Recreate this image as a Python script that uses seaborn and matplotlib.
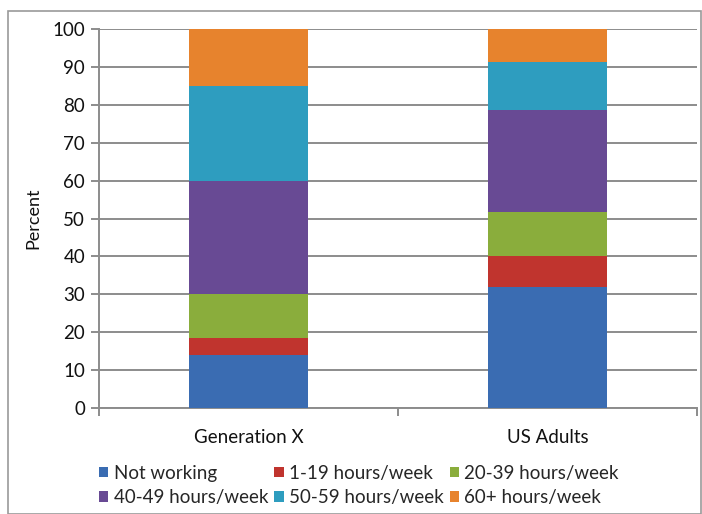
import matplotlib
matplotlib.use("Agg")
import matplotlib.pyplot as plt
import seaborn as sns
import pandas as pd
import numpy as np
from matplotlib.patches import Rectangle, Patch

groups = ["Generation X", "US Adults"]
series = ["Not working", "1-19 hours/week", "20-39 hours/week",
          "40-49 hours/week", "50-59 hours/week", "60+ hours/week"]
genx = [14, 4.5, 11.5, 30, 25, 15]
us_adults = [32, 8, 11.7, 26.8, 12.8, 8.7]
colors = ["#3a6cb2", "#c0342e", "#8aad3c", "#684a94", "#2e9dbf", "#e7832d"]
yticks = [0, 10, 20, 30, 40, 50, 60, 70, 80, 90, 100]

sns.set_theme(style="white")
plt.rcParams['font.family'] = ['Lato', 'DejaVu Sans']

fig = plt.figure(figsize=(7.02, 5.14), dpi=100)
ax = fig.add_axes([99/702, 1-408/514, (697-99)/702, (408-29)/514])

df = pd.DataFrame({"group": np.repeat(groups, len(series)),
                   "series": series * len(groups),
                   "value": genx + us_adults})
bottom = np.zeros(len(groups))
for s, c in zip(series, colors):
    sub = df[df["series"] == s].set_index("group").loc[groups]
    sns.barplot(x=groups, y=sub["value"].values, color=c, width=0.4, saturation=1,
                bottom=bottom, ax=ax, edgecolor="none", linewidth=0, zorder=3)
    bottom = bottom + sub["value"].values

ax.set_xlim(-0.5, 1.5)
ax.set_ylim(0, 100)
ax.set_yticks(yticks)
ax.yaxis.grid(True, color="#8c8c8c", linewidth=1.4)
ax.set_axisbelow(True)
for sp in ["top", "right"]:
    ax.spines[sp].set_visible(False)
ax.spines["left"].set_color("#8c8c8c")
ax.spines["bottom"].set_color("#8c8c8c")
ax.spines["left"].set_linewidth(1.4)
ax.spines["bottom"].set_linewidth(1.4)
ax.tick_params(axis="y", left=True, length=6, width=1.4, color="#8c8c8c",
               labelsize=13.5, pad=4, labelcolor="#111111")
ax.set_xticks([0, 1])
ax.set_xticklabels(groups, fontsize=13.5, color="#111111")
ax.tick_params(axis="x", bottom=False, pad=9)
ax.set_xticks([-0.5, 0.5, 1.5], minor=True)
ax.tick_params(axis="x", which="minor", bottom=True, length=6, width=1.4, color="#8c8c8c")
ax.set_ylabel("Percent", fontsize=13, color="#111111", labelpad=8)
ax.set_xlabel("")

handles = [Patch(facecolor=c, edgecolor="none") for c in colors]
order = [0, 3, 1, 4, 2, 5]
fig.legend([handles[i] for i in order], [series[i] for i in order],
           ncol=3, loc="lower left", bbox_to_anchor=(99/702, 8/514),
           frameon=False, fontsize=13.5, handlelength=0.5, handleheight=0.5,
           handletextpad=0.3, columnspacing=0.3, labelspacing=0.4, borderaxespad=0,
           borderpad=0)

fig.patches.append(Rectangle((8/702, 0), (701-8)/702, 1-11/514, transform=fig.transFigure,
                             fill=False, edgecolor="#9a9a9a", linewidth=1.2))

fig.savefig("out.png", dpi=100)
